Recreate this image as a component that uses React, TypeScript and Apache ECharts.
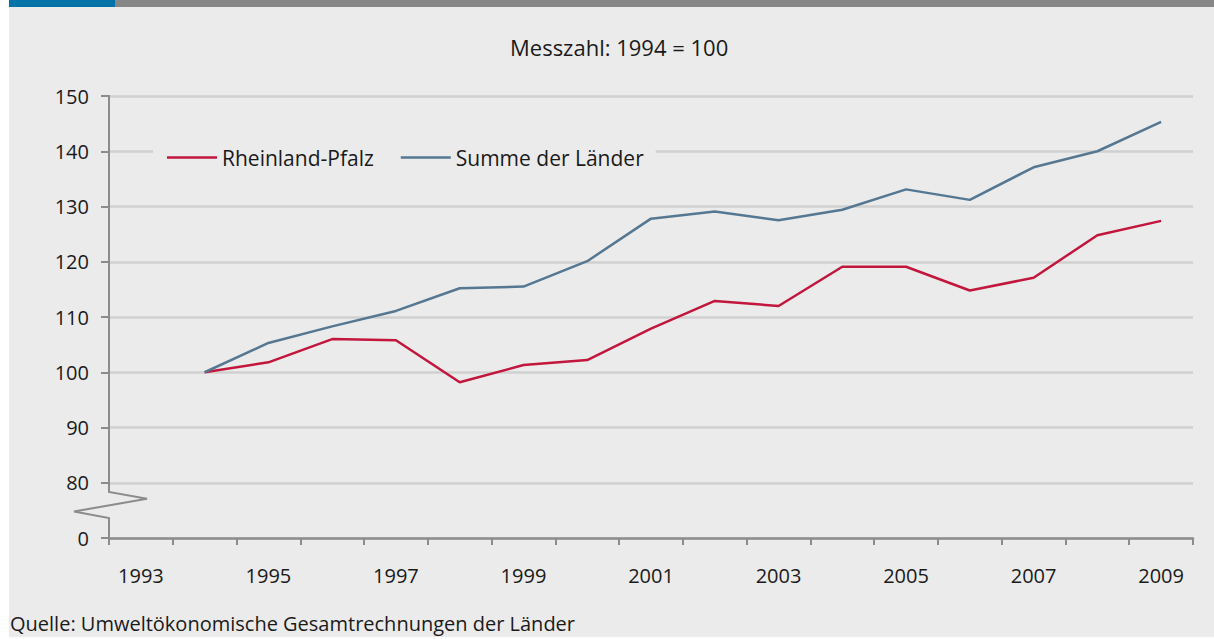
import React, { useEffect, useRef } from "react";
import * as echarts from "echarts";

const years = ["1993", "1994", "1995", "1996", "1997", "1998", "1999", "2000", "2001", "2002", "2003", "2004", "2005", "2006", "2007", "2008", "2009"];
const rheinlandPfalz = [null, 100, 101.8, 106.0, 105.8, 98.2, 101.3, 102.2, 107.9, 112.9, 112.0, 119.1, 119.1, 114.8, 117.1, 124.8, 127.4];
const summeLaender = [null, 100, 105.3, 108.3, 111.1, 115.2, 115.5, 120.1, 127.8, 129.1, 127.5, 129.4, 133.1, 131.2, 137.1, 140.0, 145.3];
const seriesNames = ["Rheinland-Pfalz", "Summe der Länder"];
const titleText = "Messzahl: 1994 = 100";
const sourceText = "Quelle: Umweltökonomische Gesamtrechnungen der Länder";

const FONT = "'Open Sans', 'Noto Sans', sans-serif";
const TXT = "#1a1a1a";
const AXIS = "#8c8c8c";
const RED = "#c2163d";
const BLUE = "#557792";

export default function App() {
  const ref = useRef<HTMLDivElement>(null);
  useEffect(() => {
    if (!ref.current) return;
    const chart = echarts.init(ref.current, undefined, { renderer: "svg" });
    const gridLeft = 109;
    const option: any = {
      animation: false,
      backgroundColor: "#ebebeb",
      textStyle: { fontFamily: FONT },
      title: {
        text: titleText,
        left: 505,
        top: 31,
        textStyle: { fontFamily: FONT, fontSize: 22, fontWeight: "normal", color: TXT },
      },
      legend: {
        left: 153,
        top: 145,
        padding: [2, 12, 2, 14],
        backgroundColor: "#ebebeb",
        icon: "rect",
        itemWidth: 50,
        itemHeight: 2.5,
        itemGap: 27,
        data: seriesNames,
        textStyle: { fontFamily: FONT, fontSize: 21, color: TXT },
      },
      grid: { left: gridLeft, right: 21, top: 96, bottom: 101, containLabel: false },
      xAxis: {
        type: "category",
        data: years,
        boundaryGap: true,
        axisLine: { show: true, lineStyle: { color: AXIS, width: 2.5 } },
        axisTick: { show: true, interval: 0, length: 7, alignWithLabel: false, lineStyle: { color: AXIS, width: 2 } },
        axisLabel: { interval: 1, margin: 27, fontSize: 20, color: TXT, fontFamily: FONT },
        splitLine: { show: false },
      },
      yAxis: {
        type: "value",
        min: 70,
        max: 150,
        interval: 10,
        axisLine: { show: false },
        axisTick: { show: true, length: 8, lineStyle: { color: AXIS, width: 2 } },
        axisLabel: {
          margin: 20,
          fontSize: 20,
          color: TXT,
          fontFamily: FONT,
          formatter: (v: number) => (v === 70 ? "0" : String(v)),
        },
        splitLine: {
          show: true,
          lineStyle: { color: "#d0d0d0", width: 2.5 },
        },
      },
      series: [
        {
          name: seriesNames[0],
          type: "line",
          data: rheinlandPfalz,
          symbol: "none",
          lineStyle: { color: RED, width: 2.5 },
          itemStyle: { color: RED },
          z: 3,
        },
        {
          name: seriesNames[1],
          type: "line",
          data: summeLaender,
          symbol: "none",
          lineStyle: { color: BLUE, width: 2.5 },
          itemStyle: { color: BLUE },
          z: 3,
        },
      ],
    };
    chart.setOption(option);

    const y80 = chart.convertToPixel({ yAxisIndex: 0 }, 80) as number;
    const y70 = chart.convertToPixel({ yAxisIndex: 0 }, 70) as number;
    const y150 = chart.convertToPixel({ yAxisIndex: 0 }, 150) as number;
    const gap = y70 - y80;
    const x = gridLeft;
    chart.setOption({
      graphic: [
        { type: "rect", shape: { x: 0, y: 0, width: 9, height: 639 }, style: { fill: "#ffffff" }, silent: true },
        { type: "rect", shape: { x: 0, y: 637, width: 1214, height: 2 }, style: { fill: "#ffffff" }, silent: true },
        { type: "rect", shape: { x: 9, y: 0, width: 106, height: 7 }, style: { fill: "#0073a8" }, silent: true },
        { type: "rect", shape: { x: 115, y: 0, width: 1099, height: 7 }, style: { fill: "#878787" }, silent: true },
        {
          type: "polyline",
          z: 10,
          shape: {
            points: [
              [x, y150 - 1],
              [x, y80 + gap * 0.165],
              [x + 38, y80 + gap * 0.29],
              [x - 35, y80 + gap * 0.52],
              [x, y80 + gap * 0.64],
              [x, y70],
            ],
          },
          style: { stroke: AXIS, lineWidth: 2, fill: "none" },
          silent: true,
        },
        {
          type: "text",
          x: 10,
          y: 623,
          style: { text: sourceText, fontFamily: FONT, fontSize: 20, fill: TXT, verticalAlign: "middle" },
          silent: true,
        },
      ],
    });
    return () => chart.dispose();
  }, []);
  return <div ref={ref} style={{ position: "absolute", left: 0, top: 0, width: 1214, height: 639 }} />;
}
